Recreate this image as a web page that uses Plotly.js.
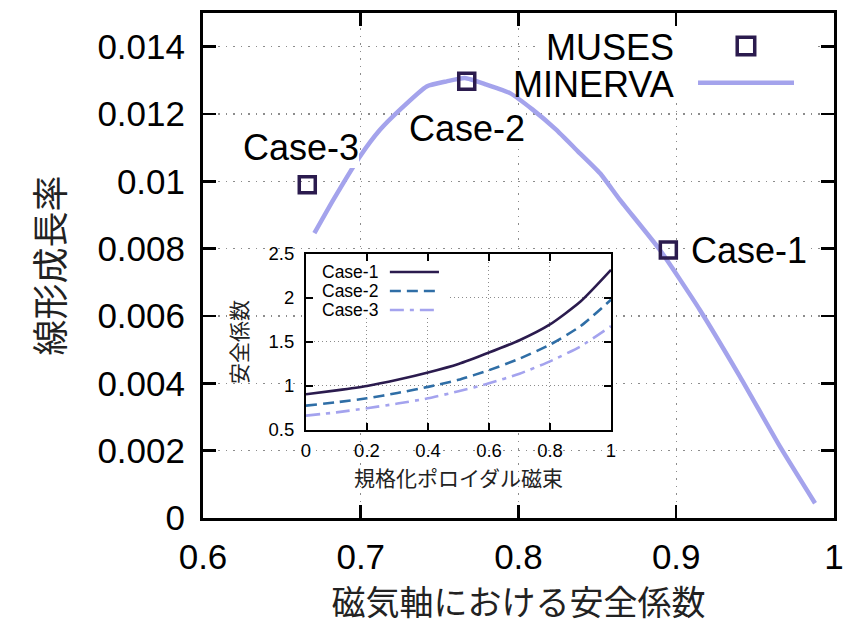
<!DOCTYPE html>
<html><head><meta charset="utf-8">
<script src="https://cdn.plot.ly/plotly-3.0.1.min.js"></script>
<style>html,body{margin:0;padding:0;background:#fff}</style>
</head><body><div id="chart" style="width:843px;height:625px"></div>
<script>
// ---- main chart data ----
const minervaQ = [0.6706, 0.6826, 0.6995, 0.7122, 0.7249, 0.7418, 0.7545, 0.766, 0.7798, 0.7946, 0.809, 0.8235, 0.8375, 0.8517, 0.8643, 0.8897, 0.915, 0.9404, 0.9658, 0.988];
const minervaGamma = [0.00846, 0.00945, 0.01074, 0.01153, 0.01213, 0.01282, 0.01297, 0.01307, 0.01287, 0.01262, 0.01213, 0.01155, 0.0109, 0.01024, 0.00945, 0.00796, 0.00618, 0.0042, 0.00212, 0.00044];
const musesQ = [0.6661, 0.7672, 0.895];
const musesGamma = [0.0099, 0.01297, 0.00796];
const musesLabels = ['Case-3', 'Case-2', 'Case-1'];
const mainXTicks = [0.6, 0.7, 0.8, 0.9, 1.0];
const mainXTickText = ['0.6', '0.7', '0.8', '0.9', '1'];
const mainYTicks = [0, 0.002, 0.004, 0.006, 0.008, 0.01, 0.012, 0.014];
const mainYTickText = ['0', '0.002', '0.004', '0.006', '0.008', '0.01', '0.012', '0.014'];
const seriesNames = ['MUSES', 'MINERVA'];

// ---- inset data ----
const psi = [0, 0.1, 0.2, 0.3, 0.4, 0.5, 0.6, 0.7, 0.8, 0.9, 1.0];
const qCase1 = [0.906, 0.95, 1.0, 1.07, 1.153, 1.25, 1.38, 1.52, 1.70, 1.96, 2.32];
const qCase2 = [0.777, 0.815, 0.86, 0.92, 0.99, 1.07, 1.18, 1.31, 1.47, 1.68, 1.98];
const qCase3 = [0.663, 0.70, 0.747, 0.80, 0.86, 0.94, 1.03, 1.14, 1.28, 1.45, 1.68];
const caseNames = ['Case-1', 'Case-2', 'Case-3'];
const insetXTicks = [0, 0.2, 0.4, 0.6, 0.8, 1.0];
const insetXTickText = ['0', '0.2', '0.4', '0.6', '0.8', '1'];
const insetYTicks = [0.5, 1, 1.5, 2, 2.5];
const insetYTickText = ['0.5', '1', '1.5', '2', '2.5'];

// ---- styles ----
const LAT = 'Liberation Sans, Arial, Helvetica, sans-serif';
const JP = 'Noto Sans CJK JP, sans-serif';
const cMinerva = '#a4a3ec';
const cMuses = '#2b1b4e';
const caseColors = ['#2b1b4e', '#2f6ea6', '#a4a3ee'];
const caseDash = ['solid', '11px,6px', '14px,6px,4px,6px'];
const gridColor = '#8c8c8c';
const gridDash = '1.5px,6px';

const traces = [
  {x: minervaQ, y: minervaGamma, type: 'scatter', mode: 'lines', name: seriesNames[1],
   line: {color: cMinerva, width: 4.5, shape: 'spline', smoothing: 0.5}, xaxis: 'x', yaxis: 'y', hoverinfo: 'skip'},
  {x: musesQ, y: musesGamma, type: 'scatter', mode: 'markers', name: seriesNames[0],
   marker: {symbol: 'square-open', size: 16, color: cMuses, line: {color: cMuses, width: 3.5}},
   xaxis: 'x', yaxis: 'y'}
];
[qCase1, qCase2, qCase3].forEach((q, i) => {
  traces.push({x: psi, y: q, type: 'scatter', mode: 'lines', name: caseNames[i],
    line: {color: caseColors[i], width: 2.6, dash: caseDash[i], shape: 'spline', smoothing: 0.6},
    xaxis: 'x2', yaxis: 'y2'});
});

// label placement (layout only, pixel offsets from each point)
const labelPlace = {
  'Case-3': {xanchor: 'center', xshift: -6, yshift: 37},
  'Case-2': {xanchor: 'center', xshift: 0, yshift: -47},
  'Case-1': {xanchor: 'left', xshift: 23, yshift: 0}
};
const annotations = musesLabels.map((lab, i) => Object.assign({
  x: musesQ[i], y: musesGamma[i], xref: 'x', yref: 'y', text: lab, showarrow: false,
  yanchor: 'middle', font: {family: LAT, size: 36, color: '#000'},
  bgcolor: '#fff', borderpad: 0, borderwidth: 0
}, labelPlace[lab]));

// main legend texts (text left of symbol, gnuplot style)
annotations.push({xref: 'paper', yref: 'paper', x: 0.7496, y: 0.9317, xanchor: 'right', yanchor: 'middle',
  text: seriesNames[0], showarrow: false, font: {family: LAT, size: 36, color: '#000'}});
annotations.push({xref: 'paper', yref: 'paper', x: 0.7496, y: 0.8594, xanchor: 'right', yanchor: 'middle',
  text: seriesNames[1], showarrow: false, font: {family: LAT, size: 36, color: '#000'}});

// inset legend texts
const insetKeyY = [2.295, 2.08, 1.864];
caseNames.forEach((n, i) => {
  annotations.push({xref: 'x2', yref: 'y2', x: 0.236, y: insetKeyY[i], xanchor: 'right', yanchor: 'middle',
    text: n, showarrow: false, borderpad: 0, borderwidth: 0,
    font: {family: LAT, size: 17.5, color: '#000'}});
});

const shapes = [
  // opaque key areas (hide grid, stay under data)
  {type: 'rect', xref: 'x', yref: 'y', x0: 0.8111, x1: 0.9892, y0: 0.01233, y1: 0.01501,
   fillcolor: '#fff', line: {width: 0}, layer: 'between'},
  {type: 'rect', xref: 'x', yref: 'y', x0: 0.7965, x1: 0.8111, y0: 0.01242, y1: 0.01337,
   fillcolor: '#fff', line: {width: 0}, layer: 'between'},
  {type: 'rect', xref: 'x2', yref: 'y2', x0: 0, x1: 0.466, y0: 1.784, y1: 2.5,
   fillcolor: '#fff', line: {width: 0}, layer: 'between'},
  // main key samples
  {type: 'rect', xref: 'paper', yref: 'paper', x0: 0.8605 - 8.75 / 631, x1: 0.8605 + 8.75 / 631,
   y0: 0.9347 - 8.75 / 505, y1: 0.9347 + 8.75 / 505, line: {color: cMuses, width: 3.5}, layer: 'above'},
  {type: 'line', xref: 'paper', yref: 'paper', x0: 0.7845, x1: 0.9366, y0: 0.862, y1: 0.862,
   line: {color: cMinerva, width: 4.5}, layer: 'above'}
];
caseNames.forEach((n, i) => {
  shapes.push({type: 'line', xref: 'x2', yref: 'y2', x0: 0.275, x1: 0.436, y0: insetKeyY[i], y1: insetKeyY[i],
    line: {color: caseColors[i], width: 2.6, dash: caseDash[i]}, layer: 'above'});
});

const mainAxis = {
  ticks: 'inside', ticklen: 13, tickwidth: 2.5, tickcolor: '#000',
  showline: true, linewidth: 3, linecolor: '#000', mirror: 'ticks',
  showgrid: true, gridcolor: gridColor, gridwidth: 1.3, griddash: gridDash,
  zeroline: false, ticklabeloverflow: 'allow', tickfont: {family: LAT, size: 35, color: '#000'}
};
const insetAxis = {
  ticks: 'inside', ticklen: 7, tickwidth: 1.5, tickcolor: '#000',
  showline: true, linewidth: 2, linecolor: '#000', mirror: 'ticks',
  showgrid: true, gridcolor: gridColor, gridwidth: 1, griddash: '1px,3px',
  zeroline: false, ticklabeloverflow: 'allow', tickfont: {family: LAT, size: 18.5, color: '#000'}
};

const layout = {
  width: 843, height: 625,
  margin: {l: 203, r: 9, t: 13, b: 107, pad: 0},
  paper_bgcolor: '#fff', plot_bgcolor: '#fff',
  showlegend: false,
  xaxis: Object.assign({}, mainAxis, {
    domain: [0, 1], anchor: 'y', range: [0.6, 1.00002], tickvals: mainXTicks, ticktext: mainXTickText,
    ticklabelstandoff: 6,
    title: {text: '磁気軸における安全係数', font: {family: JP, size: 34, color: '#222'}, standoff: 15}
  }),
  yaxis: Object.assign({}, mainAxis, {
    domain: [0, 1], anchor: 'x', range: [0, 0.015], tickvals: mainYTicks, ticktext: mainYTickText,
    ticklabelstandoff: 8,
    title: {text: '線形成長率', font: {family: JP, size: 36, color: '#222'}, standoff: 22}
  }),
  xaxis2: Object.assign({}, insetAxis, {
    domain: [0.1632, 0.6466], anchor: 'y2', range: [0, 1.00001], tickvals: insetXTicks, ticktext: insetXTickText,
    ticklabelstandoff: 3,
    title: {text: '規格化ポロイダル磁束', font: {family: JP, size: 21, color: '#222'}, standoff: 11}
  }),
  yaxis2: Object.assign({}, insetAxis, {
    domain: [0.1743, 0.5228], anchor: 'x2', range: [0.5, 2.5], tickvals: insetYTicks, ticktext: insetYTickText,
    ticklabelstandoff: 6,
    title: {text: '安全係数', font: {family: JP, size: 21, color: '#222'}, standoff: 15}
  }),
  annotations: annotations,
  shapes: shapes
};

Plotly.newPlot('chart', traces, layout, {displayModeBar: false, staticPlot: true});
</script>
</body></html>
